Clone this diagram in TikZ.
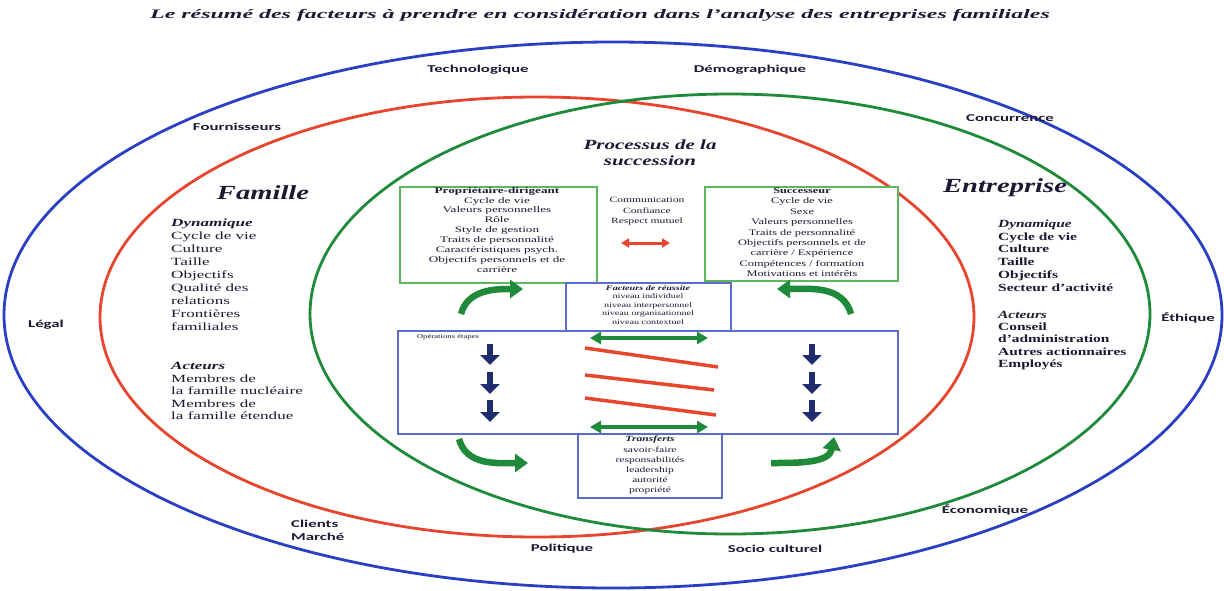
\documentclass[tikz,border=0pt]{standalone}
\usepackage{fontspec}
\setmainfont{Liberation Serif}
\newfontfamily\lblfont{Carlito}
\usepackage{graphicx}
\usetikzlibrary{arrows.meta}
\definecolor{bluec}{HTML}{2B3FC4}
\definecolor{redc}{HTML}{E8452F}
\definecolor{greenc}{HTML}{1F8A3A}
\definecolor{boxgreen}{HTML}{5CB85C}
\definecolor{boxblue}{HTML}{5B6CC9}
\definecolor{navy}{HTML}{1F2D6E}
\definecolor{txt}{HTML}{1A1A33}
\newcommand{\wtab}[3]{\scalebox{#1}[1]{\begin{tabular}{@{}#2@{}}#3\end{tabular}}}
\newcommand{\bi}[1]{\textbf{\textit{#1}}}
\begin{document}
\begin{tikzpicture}[x=1pt,y=-1pt,
  every node/.style={inner sep=0pt, text=txt},
  ring/.style={line width=2.8pt},
  gbox/.style={draw=boxgreen, line width=2pt, fill=white},
  bbox/.style={draw=boxblue, line width=2.5pt, fill=white},
  bigarrow/.style={greenc, line width=6.5pt, -{Triangle[width=18pt,length=13pt]}},
  downarrow/.style={navy, line width=6pt, -{Triangle[width=19pt,length=10pt]}},
  dblgreen/.style={greenc, line width=4pt, {Triangle[width=12pt,length=11pt]}-{Triangle[width=12pt,length=11pt]}},
  dblred/.style={redc, line width=3pt, {Triangle[width=9pt,length=8pt]}-{Triangle[width=9pt,length=8pt]}},
  stripe/.style={redc, line width=3.5pt},
  outer/.style={font=\lblfont\bfseries\fontsize{10.5}{13}\selectfont}
]
\useasboundingbox[fill=white] (0,0) rectangle (1224,590);

% ellipses
\draw[ring, bluec] (613,315) ellipse [x radius=609pt, y radius=273pt];
\draw[ring, redc] (537,317) ellipse [x radius=437pt, y radius=220pt];
\draw[ring, greenc] (730,314) ellipse [x radius=420pt, y radius=220pt];

% title
\node (title) at (600,15) {\fontsize{13}{15}\selectfont\scalebox{1.84}[1]{\bi{Le résumé des facteurs à prendre en considération dans l'analyse des entreprises familiales}}};

% outer labels
\node[outer] (tech) at (478,70) {\scalebox{1.6}[1]{Technologique}};
\node[outer] (demo) at (750,70) {\scalebox{1.6}[1]{Démographique}};
\node[outer] (four) at (237,127) {\scalebox{1.6}[1]{Fournisseurs}};
\node[outer] (conc) at (1010,118) {\scalebox{1.6}[1]{Concurrence}};
\node[outer] (legal) at (46,325) {\scalebox{1.6}[1]{Légal}};
\node[outer] (ethi) at (1188,318) {\scalebox{1.6}[1]{Éthique}};
\node[outer, anchor=west] (client) at (291,531) {\wtab{1.6}{l}{Clients\\ Marché}};
\node[outer] (poli) at (562,549) {\scalebox{1.6}[1]{Politique}};
\node[outer] (socio) at (775,549) {\scalebox{1.6}[1]{Socio culturel}};
\node[outer] (econ) at (985,510) {\scalebox{1.6}[1]{Économique}};

% Famille
\node (famille) at (263,193) {\fontsize{20}{22}\selectfont\scalebox{1.43}[1]{\bi{Famille}}};
\node[anchor=north west] (famdyn) at (171,217) {\fontsize{11}{13}\selectfont\wtab{1.55}{l}{\bi{Dynamique}\\ Cycle de vie\\ Culture\\ Taille\\ Objectifs\\ Qualité des\\ relations\\ Frontières\\ familiales}};
\node[anchor=north west] (famact) at (171,361) {\fontsize{11}{12.5}\selectfont\wtab{1.55}{l}{\bi{Acteurs}\\ Membres de\\ la famille nucléaire\\ Membres de\\ la famille étendue}};

% Entreprise
\node (entreprise) at (1005,188) {\fontsize{20}{22}\selectfont\scalebox{1.43}[1]{\bi{Entreprise}}};
\node[anchor=north west] (entdyn) at (998,218.5) {\fontsize{11}{12.7}\selectfont\wtab{1.4}{l}{\bi{Dynamique}\\ \textbf{Cycle de vie}\\ \textbf{Culture}\\ \textbf{Taille}\\ \textbf{Objectifs}\\ \textbf{Secteur d'activité}}};
\node[anchor=north west] (entact) at (998,309.5) {\fontsize{11}{12.3}\selectfont\wtab{1.4}{l}{\bi{Acteurs}\\ \textbf{Conseil}\\ \textbf{d'administration}\\ \textbf{Autres actionnaires}\\ \textbf{Employés}}};

% Processus de la succession
\node (proc) at (650,154) {\fontsize{14}{16.5}\selectfont\wtab{1.5}{c}{\bi{Processus de la}\\ \bi{succession}}};

% boxes
\node[gbox, minimum width=197pt, minimum height=96pt] (propbox) at (498.5,235) {};
\node[gbox, minimum width=193pt, minimum height=94pt] (succbox) at (801.5,234) {};
\node[bbox, minimum width=500pt, minimum height=103pt] (etapes) at (648,382.5) {};
\node[bbox, minimum width=165pt, minimum height=48pt] (facteurs) at (648.5,307) {};
\node[bbox, minimum width=144pt, minimum height=64pt] (transferts) at (650,466) {};

% box texts
\node[anchor=north] (proptxt) at (497,186) {\fontsize{8.5}{9.9}\selectfont\wtab{1.55}{c}{\textbf{Propriétaire-dirigeant}\\ Cycle de vie\\ Valeurs personnelles\\ Rôle\\ Style de gestion\\ Traits de personnalité\\ Caractéristiques psych.\\ Objectifs personnels et de\\ carrière}};
\node[anchor=north] (succtxt) at (802,186) {\fontsize{8.5}{10.4}\selectfont\wtab{1.45}{c}{\textbf{Successeur}\\ Cycle de vie\\ Sexe\\ Valeurs personnelles\\ Traits de personnalité\\ Objectifs personnels et de\\ carrière / Expérience\\ Compétences / formation\\ Motivations et intérêts}};
\node[anchor=north] (comm) at (647,195) {\fontsize{8}{10.5}\selectfont\wtab{1.45}{c}{Communication\\ Confiance\\ Respect mutuel}};
\node[anchor=north] (factxt) at (648,284.5) {\fontsize{7}{8.4}\selectfont\wtab{1.45}{c}{\bi{Facteurs de réussite}\\ niveau individuel\\ niveau interpersonnel\\ niveau organisationnel\\ niveau contextuel}};
\node[anchor=north] (trantxt) at (650,434.5) {\fontsize{8}{10.2}\selectfont\wtab{1.45}{c}{\bi{Transferts}\\ savoir-faire\\ responsabilités\\ leadership\\ autorité\\ propriété}};
\node (etlabel) at (448,337) {\fontsize{6}{7}\selectfont\scalebox{1.45}[1]{Opérations étapes}};

% red double arrow
\coordinate (ra1) at (621,243); \coordinate (ra2) at (670,243);
\draw[dblred] (ra1) -- (ra2);

% green curved arrows
\coordinate (c1a) at (461,314); \coordinate (c1b) at (523,289);
\coordinate (c2a) at (851,314); \coordinate (c2b) at (777,289);
\coordinate (c3a) at (459,439); \coordinate (c3b) at (528,463);
\coordinate (c4a) at (771,463); \coordinate (c4b) at (834,437);
\draw[bigarrow] (c1a) to[out=75,in=180] (c1b);
\draw[bigarrow] (c2a) to[out=105,in=0] (c2b);
\draw[bigarrow] (c3a) to[out=-75,in=180] (c3b);
\draw[bigarrow] (c4a) to[out=0,in=-100] (c4b);

% green double arrows inside
\coordinate (g1a) at (590,338); \coordinate (g1b) at (708,338);
\coordinate (g2a) at (590,427); \coordinate (g2b) at (708,427);
\draw[dblgreen] (g1a) -- (g1b);
\draw[dblgreen] (g2a) -- (g2b);

% red stripes
\coordinate (s1a) at (585,348); \coordinate (s1b) at (718,367);
\coordinate (s2a) at (585,375); \coordinate (s2b) at (714,390);
\coordinate (s3a) at (585,398); \coordinate (s3b) at (716,415);
\draw[stripe] (s1a) -- (s1b);
\draw[stripe] (s2a) -- (s2b);
\draw[stripe] (s3a) -- (s3b);

% down arrows
\foreach \i/\ya/\yb in {1/344/365, 2/372/394, 3/400/422}{
  \coordinate (l\i a) at (490,\ya); \coordinate (l\i b) at (490,\yb);
  \coordinate (r\i a) at (812,\ya); \coordinate (r\i b) at (812,\yb);
  \draw[downarrow] (l\i a) -- (l\i b);
  \draw[downarrow] (r\i a) -- (r\i b);
}
\end{tikzpicture}
\end{document}
